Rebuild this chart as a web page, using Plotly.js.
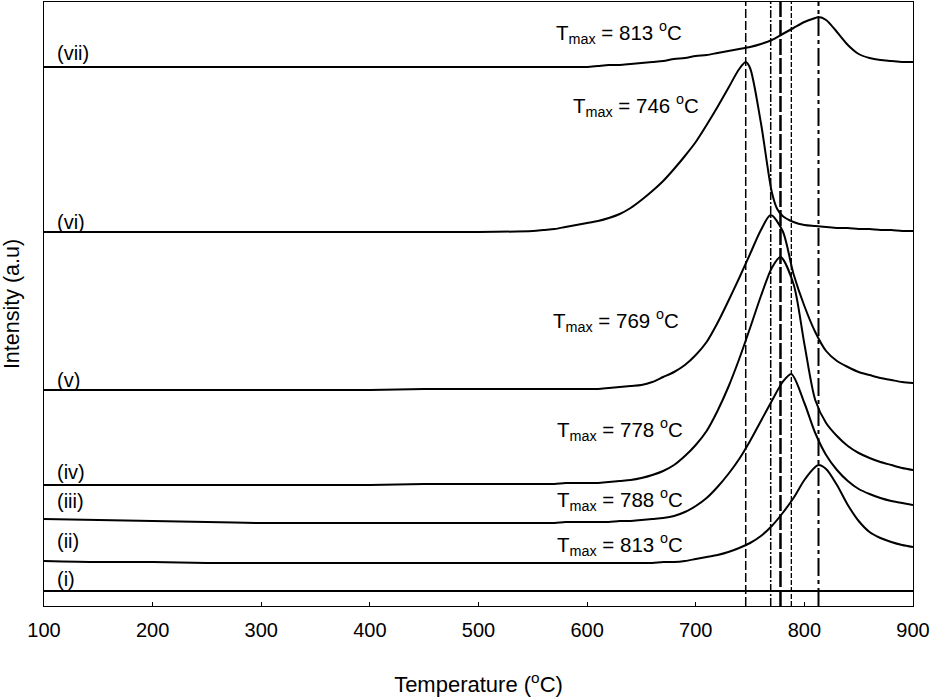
<!DOCTYPE html>
<html>
<head>
<meta charset="utf-8">
<script src="https://cdn.plot.ly/plotly-3.0.1.min.js"></script>
<style>html,body{margin:0;padding:0;background:#fff;}#chart{width:933px;height:699px;}</style>
</head>
<body>
<div id="chart"></div>
<script>
// ---- data ----
const curveNames = ['(i)', '(ii)', '(iii)', '(iv)', '(v)', '(vi)', '(vii)'];

const tempI = [100, 300, 500, 700, 900];
const intI  = [15, 15, 15, 15, 15];

const tempII = [100, 150, 200, 250, 300, 350, 400, 450, 500, 550, 560, 570, 580, 590, 600, 610, 620, 630, 640, 650, 660, 670, 680, 690, 700, 710, 720, 730, 740, 750, 760, 770, 780, 790, 800, 810, 813, 820, 830, 840, 850, 860, 870, 880, 890, 900];
const intII  = [45, 44, 44, 43, 43, 43, 43, 43, 43, 43, 43, 43, 43, 43, 43, 43, 43, 43, 43, 43, 43, 44, 44, 45, 47, 49, 51, 54, 58, 63, 70, 80, 93, 108, 126, 139, 141, 137, 121, 101, 85, 74, 68, 64, 61, 59];

const tempIII = [100, 150, 200, 250, 300, 350, 400, 450, 500, 550, 560, 570, 580, 590, 600, 610, 620, 630, 640, 650, 660, 670, 680, 690, 700, 710, 720, 730, 740, 750, 760, 770, 780, 788, 800, 810, 820, 830, 840, 850, 860, 870, 880, 890, 900];
const intIII  = [87, 86, 85, 84, 83, 83, 83, 83, 83, 83, 83, 83, 84, 84, 84, 84, 84, 85, 85, 86, 87, 88, 90, 94, 100, 108, 119, 132, 147, 165, 185, 205, 224, 232, 203, 173, 151, 136, 125, 117, 112, 108, 105, 103, 101];

const tempIV = [100, 150, 200, 250, 300, 350, 400, 450, 500, 550, 560, 570, 580, 590, 600, 610, 620, 630, 640, 650, 660, 670, 680, 690, 700, 710, 720, 730, 740, 750, 760, 770, 778, 790, 800, 810, 820, 830, 840, 850, 860, 870, 880, 890, 900];
const intIV  = [121, 121, 121, 121, 121, 121, 121, 122, 122, 122, 122, 122, 123, 123, 123, 123, 124, 125, 126, 128, 131, 135, 141, 150, 161, 175, 195, 219, 247, 278, 310, 338, 349, 322, 262, 206, 183, 170, 160, 153, 148, 144, 141, 138, 136];

const tempV = [100, 150, 200, 250, 300, 350, 400, 450, 500, 550, 560, 570, 580, 590, 600, 610, 620, 630, 640, 650, 660, 670, 680, 690, 700, 710, 720, 730, 740, 750, 760, 769, 780, 790, 800, 810, 820, 830, 840, 850, 860, 870, 880, 890, 900];
const intV  = [216, 216, 216, 216, 216, 216, 216, 217, 217, 217, 217, 217, 217, 217, 217, 217, 218, 219, 220, 221, 224, 229, 234, 241, 251, 264, 283, 305, 328, 352, 376, 391, 375, 332, 300, 274, 255, 245, 239, 234, 231, 228, 226, 224, 223];

const tempVI = [100, 150, 200, 250, 300, 350, 400, 450, 500, 550, 560, 570, 580, 590, 600, 610, 620, 630, 640, 650, 660, 670, 680, 690, 700, 710, 720, 730, 740, 746, 750, 760, 770, 775, 780, 790, 800, 810, 820, 830, 840, 850, 860, 870, 880, 890, 900];
const intVI  = [374, 374, 374, 374, 374, 374, 374, 374, 374, 375, 376, 377, 379, 381, 383, 385, 388, 392, 398, 406, 415, 425, 437, 450, 464, 481, 499, 518, 537, 544, 538, 483, 414, 397, 390, 384, 381, 380, 379, 378, 378, 377, 377, 376, 376, 375, 375];

const tempVII = [100, 150, 200, 250, 300, 350, 400, 450, 500, 550, 560, 570, 580, 590, 600, 610, 620, 630, 640, 650, 660, 670, 680, 690, 700, 710, 720, 730, 740, 750, 760, 770, 780, 790, 800, 810, 813, 820, 830, 840, 850, 860, 870, 880, 890, 900];
const intVII  = [539, 539, 539, 539, 539, 539, 539, 539, 539, 539, 539, 539, 539, 539, 539, 540, 541, 541, 542, 543, 544, 545, 547, 548, 550, 551, 553, 555, 557, 559, 562, 566, 572, 578, 584, 588, 589, 586, 574, 561, 552, 548, 546, 545, 544, 544];

// T_max label value for each curve (ii)..(vii)
const tmaxLabels = [null, 813, 788, 778, 769, 746, 813];
// vertical reference lines at peak temperatures
const peakTemps = [746, 769, 778, 788, 813];

const xTicks = [100, 200, 300, 400, 500, 600, 700, 800, 900];

// ---- build ----
const temps = [tempI, tempII, tempIII, tempIV, tempV, tempVI, tempVII];
const ints  = [intI, intII, intIII, intIV, intV, intVI, intVII];

const traces = temps.map((t, i) => ({
  x: t, y: ints[i], type: 'scatter', mode: 'lines', name: curveNames[i],
  line: {color: '#000', width: 2, shape: 'spline', smoothing: 0.8},
  hoverinfo: 'skip', showlegend: false
}));

const dashStyles = ['9px,3px', '8px,2px,2px,2px', '16px,3px', '5px,2px', '18px,4px,4px,4px'];
const dashWidths = [1.5, 1.5, 2.5, 1.3, 2];
const shapes = peakTemps.map((t, i) => ({
  type: 'line', xref: 'x', yref: 'paper', x0: t, x1: t, y0: 0, y1: 1,
  line: {color: '#000', width: dashWidths[i], dash: dashStyles[i]}
}));

const FONT = 'Liberation Sans, Arial, sans-serif';
// curve label positions (left edge x, centre y)
const nameY = [27, 65, 105, 134, 226, 384, 553];
const annotations = curveNames.map((n, i) => ({
  text: n, x: 110, y: nameY[i], xref: 'x', yref: 'y', xanchor: 'left', yanchor: 'middle',
  showarrow: false, font: {family: FONT, size: 20, color: '#000'}
}));
// T_max label positions
const tmaxX = [null, 555, 555, 555, 551, 571, 554];
const tmaxY = [null, 62, 107, 177, 286, 501, 574];
tmaxLabels.forEach((v, i) => {
  if (v === null) return;
  annotations.push({
    text: 'T<sub>max</sub> = ' + v + ' <sup>o</sup>C',
    x: 100 + (tmaxX[i] - 44) / 1.08625, y: tmaxY[i], xref: 'x', yref: 'y',
    xanchor: 'left', yanchor: 'middle', showarrow: false,
    font: {family: FONT, size: 20.5, color: '#000'}
  });
});

const layout = {
  width: 933, height: 699, autosize: false,
  margin: {l: 44, r: 20, t: 2, b: 93},
  paper_bgcolor: '#fff', plot_bgcolor: '#fff',
  font: {family: FONT, size: 20, color: '#000'},
  xaxis: {
    range: [100, 900], tickvals: xTicks, ticktext: xTicks.map(String),
    ticks: 'inside', ticklen: 4, tickwidth: 1, tickcolor: '#000',
    showline: true, linecolor: '#000', linewidth: 1, mirror: true,
    showgrid: false, zeroline: false, ticklabelstandoff: 6,
    tickfont: {family: FONT, size: 20, color: '#000'},
    title: {text: 'Temperature (<sup>o</sup>C)', font: {family: FONT, size: 22, color: '#000'}, standoff: 36}
  },
  yaxis: {
    range: [0, 604], showticklabels: false, ticks: '',
    showline: true, linecolor: '#000', linewidth: 1, mirror: true,
    showgrid: false, zeroline: false,
    title: {text: 'Intensity (a.u)', font: {family: FONT, size: 21.5, color: '#000'}, standoff: 18}
  },
  shapes: shapes,
  annotations: annotations,
  showlegend: false
};

Plotly.newPlot('chart', traces, layout, {displayModeBar: false, staticPlot: true});
</script>
</body>
</html>
